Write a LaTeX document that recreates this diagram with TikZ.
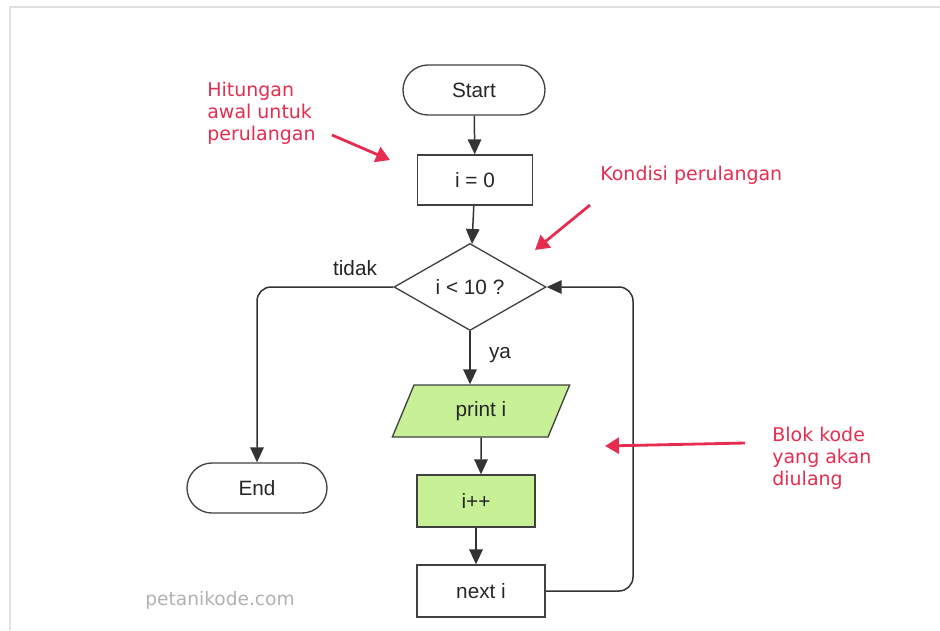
\documentclass[tikz,border=0pt]{standalone}
\usepackage{fontspec}
\setmainfont{Liberation Sans}
\newfontfamily\notefont{DejaVu Sans}
\usetikzlibrary{shapes.geometric,arrows.meta}
\definecolor{notered}{RGB}{230,45,80}
\definecolor{blockgreen}{RGB}{200,240,150}
\tikzset{
    box/.style={draw=black!75, line width=0.75pt, minimum width=2.3cm, minimum height=1cm, text=black!85, font=\fontsize{11.8}{13}\selectfont},
    term/.style={box, rounded corners=0.5cm, minimum width=2.8cm},
    flow/.style={draw=black!80, line width=0.85pt, -{Triangle[length=0.3cm,width=0.27cm]}},
    note/.style={text=notered, inner sep=0pt, align=left, font=\notefont\fontsize{10.8}{12.4}\selectfont},
    pointer/.style={draw=notered, line width=1.6pt, -{Triangle[length=0.28cm,width=0.32cm]}}
}
\begin{document}
\begin{tikzpicture}
    \useasboundingbox (0,0) rectangle (18.8,-12.6);
    \draw[black!12, line width=0.6pt] (0.2,-12.6) -- (0.2,-0.14) -- (18.8,-0.14);

    \node[term, minimum width=2.84cm] (start) at (9.48,-1.8) {Start};
    \node[box] (init) at (9.5,-3.6) {i = 0};
    \node[box, diamond, aspect=1.75, inner sep=0pt, minimum width=3.04cm, minimum height=1.74cm] (cond) at (9.4,-5.74) {i < 10 ?};
    \node[box, trapezium, trapezium left angle=72, trapezium right angle=108, trapezium stretches=true, fill=blockgreen, minimum width=3.56cm, minimum height=1.04cm] (print) at (9.62,-8.22) {print i};
    \node[box, fill=blockgreen, minimum width=2.36cm, minimum height=1.04cm] (inc) at (9.52,-10.02) {i++};
    \node[box, minimum width=2.56cm, minimum height=1.04cm] (next) at (9.62,-11.82) {next i};
    \node[term] (end) at (5.14,-9.76) {End};

    \draw[flow] (start) -- (init);
    \draw[flow] (init) -- (cond);
    \draw[flow] (cond) -- (cond.south |- print.north);
    \draw[flow] (print) -- (print.south |- inc.north);
    \draw[flow] (inc) -- (inc.south |- next.north);

    \coordinate (back) at (12.66,-11.82);
    \draw[flow, rounded corners=8pt] (next.east) -- (back) |- (cond.east);
    \draw[flow, rounded corners=8pt] (cond.west) -| (end.north);
    \node[text=black!85, font=\fontsize{11.8}{13}\selectfont] (no) at (7.1,-5.36) {tidak};
    \node[text=black!85, font=\fontsize{11.8}{13}\selectfont] (yes) at (10.0,-7.1) {ya};

    \node[note, anchor=north west] (initnote) at (4.14,-1.64) {Hitungan\\awal untuk\\perulangan};
    \node[note, anchor=base west] (condnote) at (12.0,-3.6) {Kondisi perulangan};
    \node[note, anchor=north west] (bodynote) at (15.44,-8.54) {Blok kode\\yang akan\\diulang};

    \coordinate (a1) at (6.64,-2.7);
    \coordinate (b1) at (7.8,-3.2);
    \coordinate (a2) at (11.8,-4.1);
    \coordinate (b2) at (10.7,-5.0);
    \coordinate (a3) at (14.9,-8.86);
    \coordinate (b3) at (12.1,-8.92);
    \draw[pointer] (a1) -- (b1);
    \draw[pointer] (a2) -- (b2);
    \draw[pointer] (a3) -- (b3);

    \node[text=black!30, font=\notefont\fontsize{10.6}{12}\selectfont] (mark) at (4.4,-12.0) {petanikode.com};
\end{tikzpicture}
\end{document}
